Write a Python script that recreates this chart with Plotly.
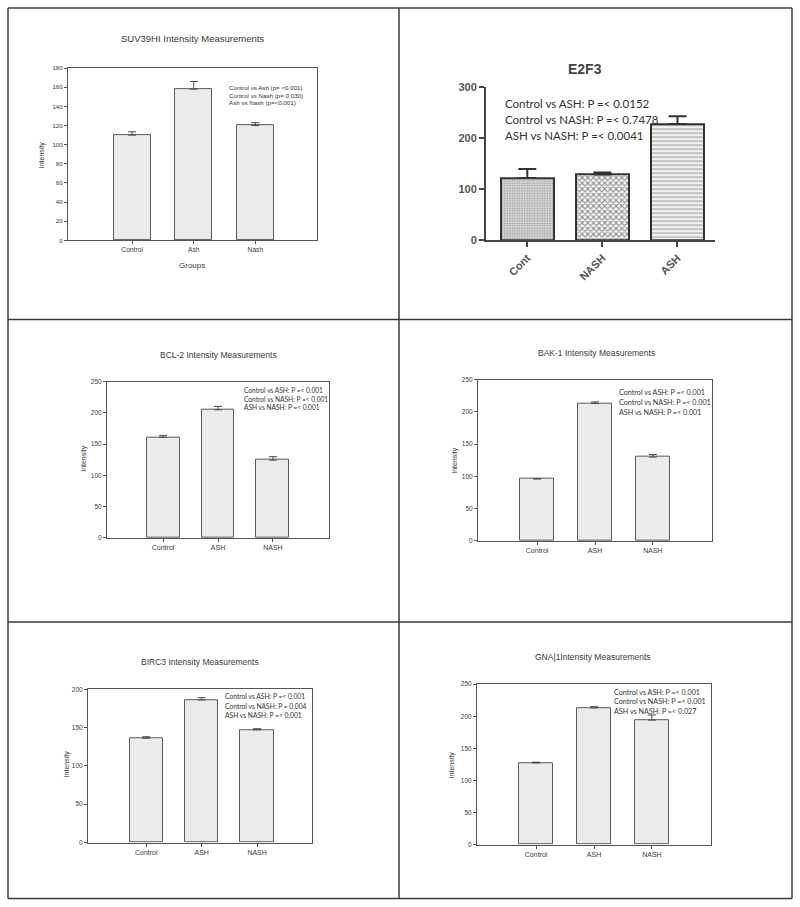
import plotly.graph_objects as go

W, H = 800, 907

# ---------------- data ----------------
suv_groups = ["Control", "Ash", "Nash"]
suv_means = [110, 158, 120]
suv_err = [3.5, 8, 3]

e2f3_groups = ["Cont", "NASH", "ASH"]
e2f3_means = [122, 129, 228]
e2f3_err = [18, 4, 15]

bcl2_groups = ["Control", "ASH", "NASH"]
bcl2_means = [161, 205, 124.5]
bcl2_err = [3, 5.5, 5.5]

bak1_groups = ["Control", "ASH", "NASH"]
bak1_means = [96, 213, 130]
bak1_err = [0.8, 2.5, 4]

birc3_groups = ["Control", "ASH", "NASH"]
birc3_means = [136, 186, 147]
birc3_err = [2, 3, 1.5]

gnai1_groups = ["Control", "ASH", "NASH"]
gnai1_means = [127, 213, 194]
gnai1_err = [1.5, 2, 8]

suv_notes = ["Control vs Ash (p= <0.001)", "Control vs Nash (p= 0.030)", "Ash vs Nash (p=<0.001)"]
e2f3_notes = ["Control vs ASH: P =< 0.0152", "Control vs NASH: P =< 0.7478", "ASH vs NASH: P =< 0.0041"]
bcl2_notes = ["Control vs ASH: P =< 0.001", "Control vs NASH: P =< 0.001", "ASH vs NASH: P =< 0.001"]
bak1_notes = ["Control vs ASH: P =< 0.001", "Control vs NASH: P =< 0.001", "ASH vs NASH: P =< 0.001"]
birc3_notes = ["Control vs ASH: P =< 0.001", "Control vs NASH: P = 0.004", "ASH vs NASH: P =< 0.001"]
gnai1_notes = ["Control vs ASH: P =< 0.001", "Control vs NASH: P =< 0.001", "ASH vs NASH: P =< 0.027"]

# ---------------- helpers ----------------
def px(x):
    return x / W

def py(y):
    # slight vertical correction for the rendered page
    return 1 - ((y - 6) / 0.985) / H

fig = go.Figure()
annotations = []
shapes = []
layout = {}

TXT = "#3a3a3a"
SANS = "Liberation Sans, Arial, sans-serif"
CAL = "Lato, Carlito, sans-serif"


def sigma_panel(i, groups, means, err, box, yr, dtick, title, tpos, tsize,
                notes, npos, nsize, nfont, ylab_pos, xlab=None, ticksize=6.5):
    x0, y0, x1, y1, left, right = box
    xa = "x" if i == 1 else f"x{i}"
    ya = "y" if i == 1 else f"y{i}"
    fig.add_trace(go.Bar(
        x=list(range(len(groups))), y=means,
        xaxis=xa, yaxis=ya, width=0.6,
        marker=dict(color="#ebebeb", line=dict(color="#5a5a5a", width=1)),
        error_y=dict(type="data", symmetric=False, array=err,
                     arrayminus=[0] * len(err), color="#4a4a4a",
                     thickness=1, width=4),
        showlegend=False, hoverinfo="skip"))
    k = "" if i == 1 else str(i)
    layout["xaxis" + k] = dict(
        domain=[px(x0), px(x1)], anchor=ya, range=[left, right],
        tickvals=list(range(len(groups))), ticktext=groups,
        showline=True, mirror=True, linecolor="#555", linewidth=1,
        ticks="outside", ticklen=3, tickcolor="#555", showgrid=False,
        zeroline=False, tickfont=dict(family=SANS, size=ticksize + 0.5, color=TXT),
        fixedrange=True)
    layout["yaxis" + k] = dict(
        domain=[py(y1), py(y0)], anchor=xa, range=yr, dtick=dtick,
        showline=True, mirror=True, linecolor="#555", linewidth=1,
        ticks="outside", ticklen=3, tickcolor="#555", showgrid=False,
        zeroline=False, tickfont=dict(family=SANS, size=ticksize, color=TXT),
        fixedrange=True)
    annotations.append(dict(x=px(tpos[0]), y=py(tpos[1]), xref="paper", yref="paper",
                            text=title, showarrow=False, xanchor="center", yanchor="middle",
                            font=dict(family=SANS, size=tsize, color=TXT)))
    for j, n in enumerate(notes):
        annotations.append(dict(x=px(npos[0]), y=py(npos[1] + j * npos[2]),
                                xref="paper", yref="paper", text=n, showarrow=False,
                                xanchor="left", yanchor="middle",
                                font=dict(family=nfont, size=nsize, color="#333")))
    annotations.append(dict(x=px(ylab_pos[0]), y=py(ylab_pos[1]), xref="paper", yref="paper",
                            text="Intensity", textangle=-90, showarrow=False,
                            xanchor="center", yanchor="middle",
                            font=dict(family=SANS, size=7, color=TXT)))
    if xlab:
        annotations.append(dict(x=px(xlab[1]), y=py(xlab[2]), xref="paper", yref="paper",
                                text=xlab[0], showarrow=False, xanchor="center",
                                yanchor="middle",
                                font=dict(family=SANS, size=8, color=TXT)))


# Panel 1: SUV39HI
sigma_panel(1, suv_groups, suv_means, suv_err,
            (68, 68, 317, 240, -1.04, 3.0), [0, 180], 20,
            "SUV39HI Intensity Measurements", (192, 38), 9.5,
            suv_notes, (227, 87.5, 7.6), 6.2, SANS, (42, 155),
            xlab=("Groups", 192, 265), ticksize=6.2)

# Panel 3: BCL-2
sigma_panel(3, bcl2_groups, bcl2_means, bcl2_err,
            (107, 381, 329, 537, -1.02, 3.02), [0, 250], 50,
            "BCL-2 Intensity Measurements", (218, 354), 8.5,
            bcl2_notes, (242, 389.5, 8.3), 6.6, CAL, (84, 458))

# Panel 4: BAK-1
sigma_panel(4, bak1_groups, bak1_means, bak1_err,
            (478, 379, 712, 540, -1.02, 3.02), [0, 250], 50,
            "BAK-1 Intensity Measurements", (596, 352), 8.5,
            bak1_notes, (617, 392, 9.8), 7.2, CAL, (455, 460))

# Panel 5: BIRC3
sigma_panel(5, birc3_groups, birc3_means, birc3_err,
            (88, 688, 312, 841, -1.05, 2.99), [0, 200], 50,
            "BIRC3 Intensity Measurements", (200, 661), 8.5,
            birc3_notes, (223, 695, 9.3), 6.7, CAL, (67, 763))

# Panel 6: GNAI1
sigma_panel(6, gnai1_groups, gnai1_means, gnai1_err,
            (477, 683, 711, 843, -1.02, 3.02), [0, 250], 50,
            "GNA|1Intensity Measurements", (593, 656), 8.5,
            gnai1_notes, (612, 691, 9.6), 7.2, CAL, (452, 763))

# Panel 2: E2F3 (GraphPad style)
fig.add_trace(go.Bar(
    x=list(range(len(e2f3_groups))), y=e2f3_means, xaxis="x2", yaxis="y2", width=0.7,
    marker=dict(color="white", line=dict(color="#333", width=2),
                pattern=dict(shape=[".", "x", "-"], fgcolor=["#666", "#222", "#555"],
                             bgcolor=["#d8d8d8", "#ffffff", "#f2f2f2"],
                             size=[2.5, 4, 4], solidity=[0.35, 0.5, 0.3])),
    error_y=dict(type="data", symmetric=False, array=e2f3_err,
                 arrayminus=[0] * len(e2f3_err), color="#333", thickness=2, width=9),
    showlegend=False, hoverinfo="skip"))
layout["xaxis2"] = dict(
    domain=[px(486), px(715)], anchor="y2", range=[-0.55, 2.5],
    tickvals=list(range(len(e2f3_groups))), ticktext=e2f3_groups, tickangle=-45,
    showline=True, linecolor="#444", linewidth=2, ticks="outside", ticklen=5,
    tickwidth=2, tickcolor="#444", showgrid=False, zeroline=False,
    tickfont=dict(family=SANS, size=11, color="#555", weight="bold"), fixedrange=True)
layout["yaxis2"] = dict(
    domain=[py(240), py(87)], anchor="x2", range=[0, 300], dtick=100,
    showline=True, linecolor="#444", linewidth=2, ticks="outside", ticklen=5,
    tickwidth=2, tickcolor="#444", showgrid=False, zeroline=False,
    tickfont=dict(family=SANS, size=11, color="#555", weight="bold"), fixedrange=True)
annotations.append(dict(x=px(585), y=py(69), xref="paper", yref="paper", text="<b>E2F3</b>",
                        showarrow=False, xanchor="center", yanchor="middle",
                        font=dict(family=SANS, size=14, color="#444")))
for j, n in enumerate(e2f3_notes):
    annotations.append(dict(x=px(503), y=py(103 + j * 16), xref="paper", yref="paper",
                            text=n, showarrow=False, xanchor="left", yanchor="middle",
                            font=dict(family=CAL, size=11.5, color="#333")))

# Panel borders
BC = "#3a3a3a"
def line(xa, ya, xb, yb):
    shapes.append(dict(type="line", xref="paper", yref="paper",
                       x0=px(xa), y0=py(ya), x1=px(xb), y1=py(yb),
                       line=dict(color=BC, width=1.5)))

line(8, 8, 792, 8)
line(8, 897, 792, 897)
line(8, 8, 8, 897)
line(792, 8, 792, 897)
line(399, 8, 399, 897)
line(8, 319, 792, 319)
line(8, 621, 792, 621)

fig.update_layout(
    width=W, height=H, margin=dict(l=0, r=0, t=0, b=0),
    paper_bgcolor="white", plot_bgcolor="white",
    annotations=annotations, shapes=shapes, bargap=0, **layout)

fig.write_html("out.html", config={"displayModeBar": False},
               post_script="document.body.style.margin='0';document.body.style.overflow='hidden';")
